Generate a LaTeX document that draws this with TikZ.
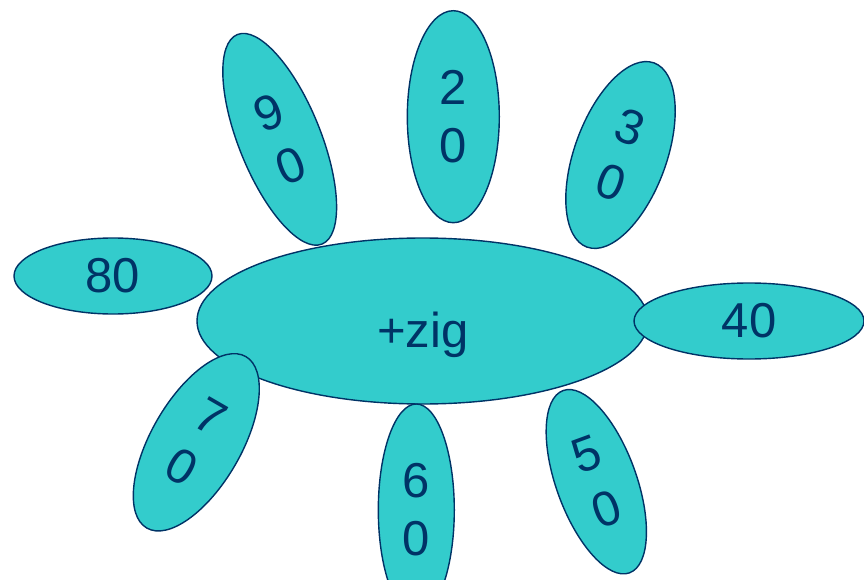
\documentclass[tikz,border=0pt]{standalone}
\usepackage{fontspec}
\setmainfont{Liberation Sans}
\usetikzlibrary{shapes.geometric}
\definecolor{petalfill}{RGB}{51,204,204}
\definecolor{navy}{RGB}{0,51,102}
\begin{document}
\begin{tikzpicture}[x=1pt,y=-1pt,
  blob/.style={ellipse, draw=navy, fill=petalfill, line width=1.4pt, inner sep=0pt,
    text=navy, font=\fontsize{49}{58}\selectfont, align=center},
  txt/.style={text=navy, font=\fontsize{49}{58}\selectfont, inner sep=0pt}]
\useasboundingbox (0,0) rectangle (864,580);
\clip (0,0) rectangle (864,580);
\node[blob, minimum width=451, minimum height=166] (hub) at (422.5,321) {};
\node[txt, anchor=base] (hubtxt) at (423,347) {+zig};
\node[blob, minimum width=198, minimum height=76] (p80) at (113,276) {80};
\node[blob, minimum width=230, minimum height=76] (p40) at (749,321) {40};
\node[blob, minimum width=92, minimum height=212] (p20) at (453.3,116.7) {2\\0};
\node[blob, minimum width=82, minimum height=226, rotate=22] (p90) at (279.7,139.3) {9\\0};
\node[blob, minimum width=92, minimum height=196, rotate=-20] (p30) at (620.5,155) {3\\0};
\node[blob, minimum width=90, minimum height=198, rotate=-30] (p70) at (196.3,442.3) {7\\0};
\node[blob, minimum width=76, minimum height=212] (p60) at (416.3,510) {6\\0};
\node[blob, minimum width=80, minimum height=194, rotate=20] (p50) at (596.3,481.7) {5\\0};
\end{tikzpicture}
\end{document}
